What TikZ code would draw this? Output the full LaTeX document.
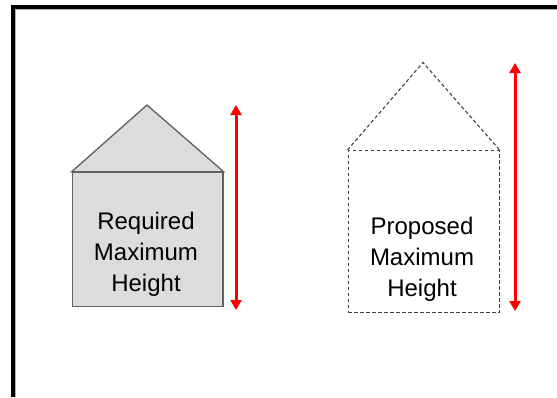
\documentclass[tikz,border=0pt]{standalone}
\usepackage{fontspec}
\setmainfont{Liberation Sans}
\usetikzlibrary{arrows.meta}
\definecolor{wallfill}{HTML}{DCDCDC}
\definecolor{wallline}{HTML}{606060}
\definecolor{dashline}{HTML}{404040}
\tikzset{
  frameline/.style={line width=4pt, black},
  frameshade/.style={line width=1.2pt, black!30},
  house/.style={draw=wallline, fill=wallfill, line width=1.3pt, line join=miter},
  ghost/.style={draw=dashline, line width=1.1pt, dash pattern=on 3.5pt off 2.5pt},
  body/.style={rectangle, inner sep=0pt, anchor=north west},
  label/.style={align=center, font=\fontsize{24}{31}\selectfont, inner sep=0pt, anchor=north},
  heightarrow/.style={draw=red, line width=3pt,
    {Triangle[length=10pt,width=11pt]}-{Triangle[length=10pt,width=11pt]}}
}
\begin{document}
\begin{tikzpicture}[x=1pt, y=-1pt]
  \useasboundingbox (0,0) rectangle (557,397);
  % outer frame: top and left edges with a light shadow
  \draw[frameshade] (15,9.8) -- (557,9.8);
  \draw[frameshade] (15.2,9.8) -- (15.2,397);
  \draw[frameline] (10.7,7) -- (557,7);
  \draw[frameline] (12.7,5) -- (12.7,397);

  % required house (solid, grey)
  \coordinate (lapex) at (147,105);
  \node[body, house, minimum width=150.6pt, minimum height=134pt] (lbody) at (71.7,171.7) {};
  \filldraw[house] (lbody.north west) -- (lapex) -- (lbody.north east) -- cycle;
  \node[label] (ltext) at (146,212) {Required\\Maximum\\Height};

  % proposed house (dashed outline)
  \coordinate (rapex) at (423,62.5);
  \node[body, ghost, minimum width=151pt, minimum height=162pt] (rbody) at (347.5,150) {};
  \draw[ghost] (rbody.north west) -- (rapex) -- (rbody.north east);
  \node[label] (rtext) at (422,217) {Proposed\\Maximum\\Height};

  % height arrows
  \coordinate (la1) at (236,105);
  \coordinate (la2) at (236,310);
  \draw[heightarrow] (la1) -- (la2);
  \coordinate (ra1) at (515,63);
  \coordinate (ra2) at (515,311);
  \draw[heightarrow] (ra1) -- (ra2);
\end{tikzpicture}
\end{document}
